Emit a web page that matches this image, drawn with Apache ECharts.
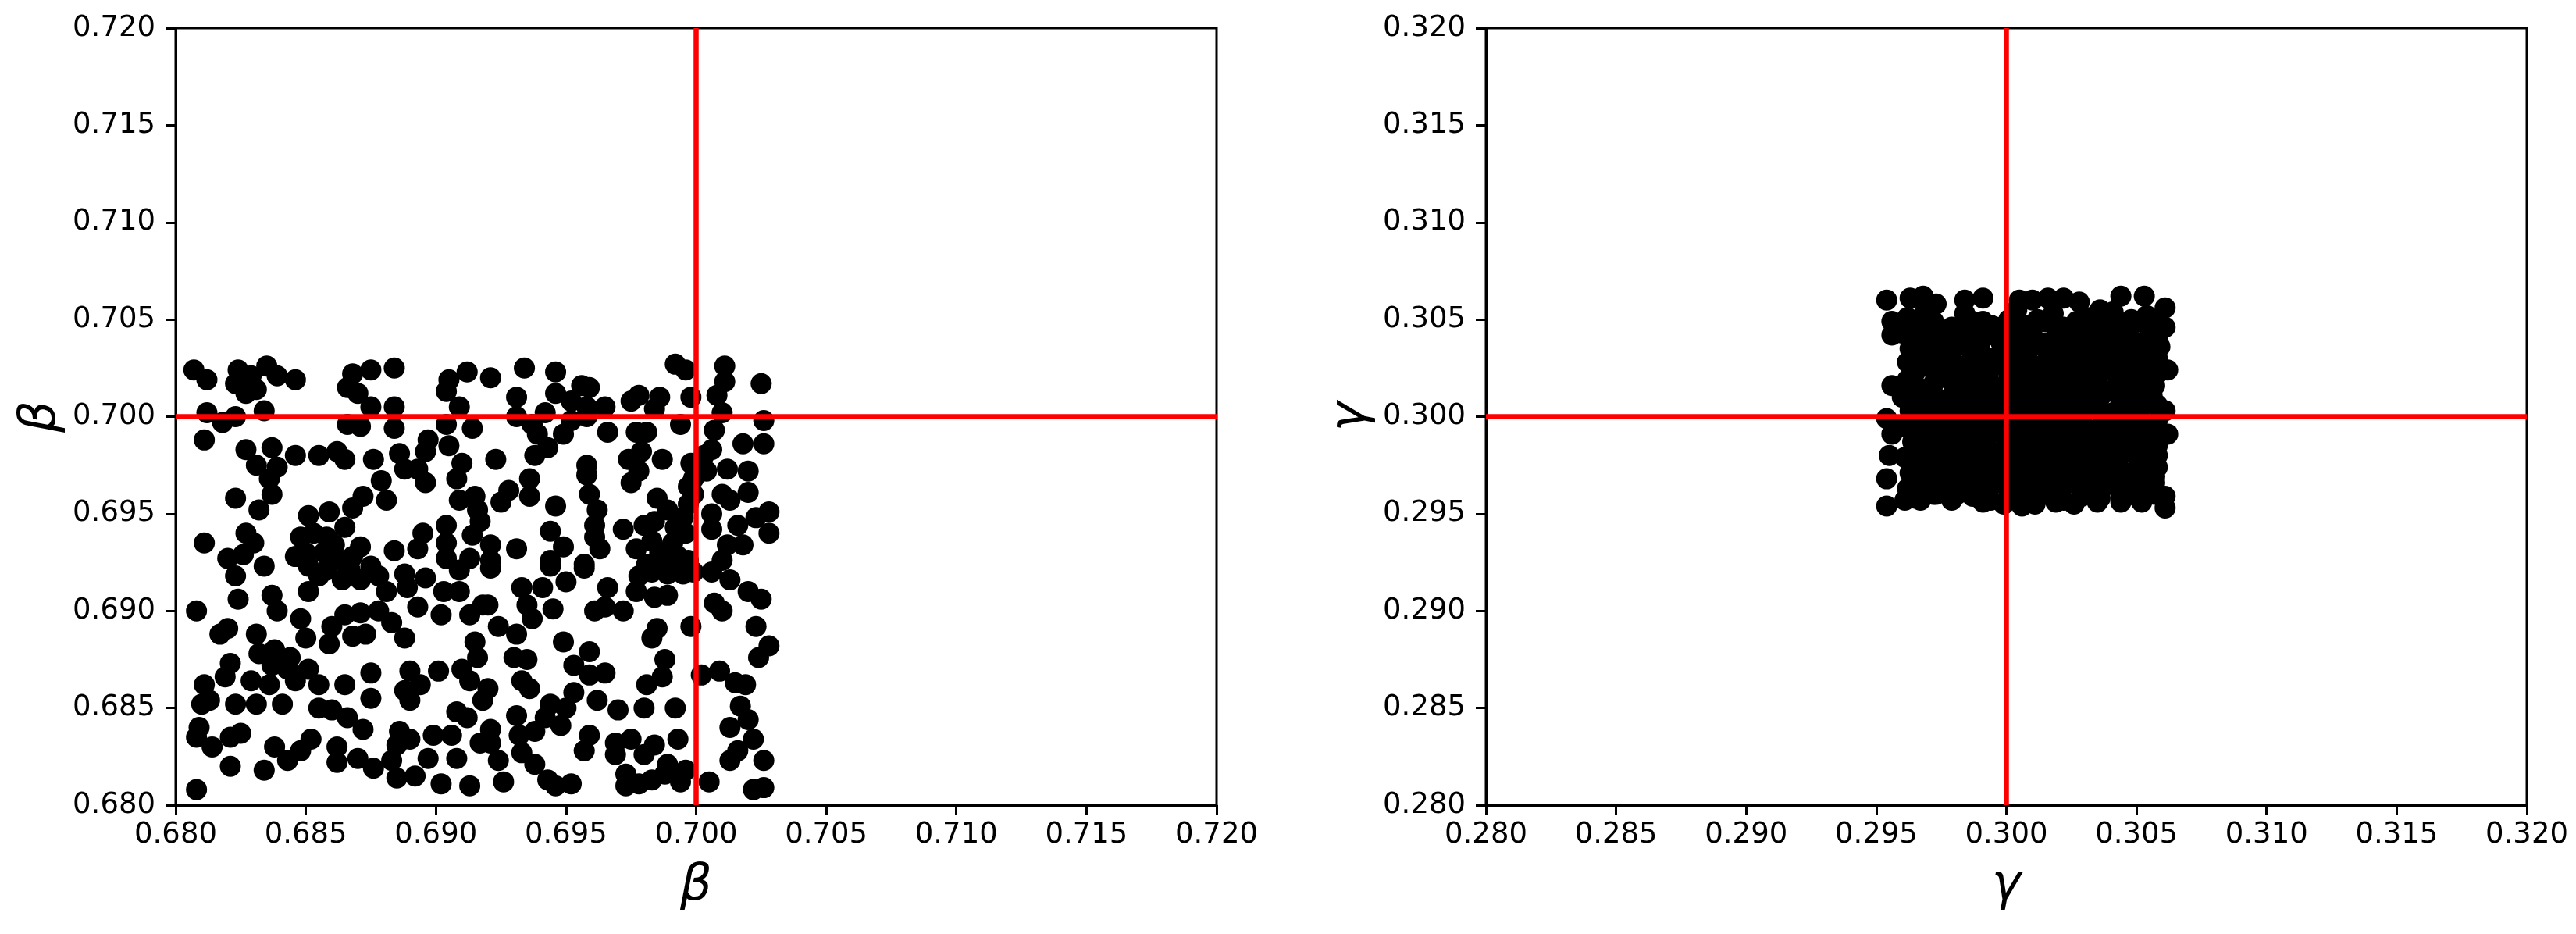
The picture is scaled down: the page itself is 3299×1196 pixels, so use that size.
<!DOCTYPE html>
<html>
<head>
<meta charset="utf-8">
<title>beta / gamma samples</title>
<script src="https://cdn.jsdelivr.net/npm/echarts@6/dist/echarts.min.js"></script>
<style>
  html, body { margin: 0; padding: 0; background: #fff; }
  #chart { width: 3299px; height: 1196px; }
</style>
</head>
<body>
<div id="chart"></div>
<script>
// true parameter values (red cross lines)
const trueBeta = 0.700
const trueGamma = 0.300

// axis ranges / ticks
const betaRange = [0.680, 0.720]
const gammaRange = [0.280, 0.320]
const tickStep = 0.005

const betaPoints = [
  [0.6807,0.7024],[0.6812,0.7019],[0.6824,0.7024],[0.6829,0.7021],[0.6835,0.7026],[0.6839,0.7021],[0.6846,0.7019],[0.6823,0.7017],[0.6827,0.7012],[0.6831,0.7014],
  [0.6812,0.7002],[0.6818,0.6997],[0.6823,0.7000],[0.6834,0.7003],[0.6868,0.7022],[0.6875,0.7024],[0.6884,0.7025],[0.6866,0.7015],[0.6870,0.7012],[0.6875,0.7005],
  [0.6884,0.7005],[0.6866,0.6996],[0.6871,0.6995],[0.6884,0.6994],[0.6905,0.7019],[0.6912,0.7023],[0.6904,0.7013],[0.6909,0.7005],[0.6904,0.6996],[0.6914,0.6994],
  [0.6811,0.6988],[0.6827,0.6983],[0.6837,0.6984],[0.6846,0.6980],[0.6855,0.6980],[0.6862,0.6982],[0.6865,0.6978],[0.6831,0.6975],[0.6839,0.6974],[0.6836,0.6968],
  [0.6837,0.6960],[0.6832,0.6952],[0.6823,0.6958],[0.6876,0.6978],[0.6886,0.6981],[0.6888,0.6973],[0.6893,0.6973],[0.6896,0.6966],[0.6897,0.6988],[0.6896,0.6982],
  [0.6905,0.6985],[0.6910,0.6976],[0.6908,0.6968],[0.6879,0.6967],[0.6872,0.6959],[0.6881,0.6957],[0.6868,0.6953],[0.6909,0.6957],[0.6915,0.6959],[0.6916,0.6952],
  [0.6917,0.6946],[0.6851,0.6949],[0.6859,0.6951],[0.6865,0.6943],[0.6848,0.6938],[0.6853,0.6940],[0.6858,0.6938],[0.6861,0.6934],[0.6871,0.6933],[0.6846,0.6928],
  [0.6851,0.6923],[0.6857,0.6930],[0.6863,0.6926],[0.6875,0.6923],[0.6884,0.6931],[0.6895,0.6940],[0.6893,0.6932],[0.6904,0.6944],[0.6904,0.6935],[0.6914,0.6939],
  [0.6904,0.6927],[0.6913,0.6927],[0.6811,0.6935],[0.6827,0.6940],[0.6830,0.6935],[0.6820,0.6927],[0.6826,0.6929],[0.6834,0.6923],
  [0.6850,0.6930],[0.6868,0.6928],[0.6867,0.6921],[0.6858,0.6921],
  [0.6921,0.7020],[0.6934,0.7025],[0.6946,0.7023],[0.6931,0.7010],[0.6946,0.7012],[0.6956,0.7016],[0.6959,0.7015],[0.6952,0.7008],[0.6958,0.7005],[0.6965,0.7005],
  [0.6931,0.7000],[0.6942,0.7002],[0.6937,0.6996],[0.6939,0.6991],[0.6949,0.6991],[0.6952,0.6998],[0.6958,0.7000],[0.6966,0.6992],[0.6975,0.7008],[0.6978,0.7011],
  [0.6986,0.7010],[0.6984,0.7004],[0.6977,0.6992],[0.6981,0.6992],[0.6994,0.6996],[0.6992,0.7027],[0.6996,0.7024],[0.6998,0.7010],[0.7011,0.7026],[0.7011,0.7018],
  [0.7008,0.7011],[0.7010,0.7002],[0.7007,0.6993],[0.7006,0.6983],[0.7025,0.7017],[0.7026,0.6998],[0.7018,0.6986],[0.7026,0.6986],[0.6923,0.6978],[0.6938,0.6980],
  [0.6943,0.6984],[0.6958,0.6975],[0.6958,0.6970],[0.6974,0.6978],[0.6979,0.6982],[0.6987,0.6978],[0.6978,0.6972],[0.6975,0.6966],[0.6998,0.6976],[0.6997,0.6964],
  [0.7004,0.6972],[0.7012,0.6973],[0.7020,0.6972],[0.7010,0.6960],[0.7013,0.6957],[0.7020,0.6961],[0.6936,0.6968],[0.6928,0.6962],[0.6925,0.6956],[0.6936,0.6959],
  [0.6946,0.6954],[0.6959,0.6960],[0.6962,0.6952],[0.6961,0.6944],[0.6961,0.6938],[0.6963,0.6932],[0.6972,0.6942],[0.6985,0.6958],[0.6984,0.6946],[0.6992,0.6943],
  [0.6997,0.6955],[0.6983,0.6936],[0.6991,0.6935],[0.6977,0.6932],[0.7006,0.6950],[0.7006,0.6942],[0.7016,0.6944],[0.7028,0.6951],[0.7023,0.6948],[0.7028,0.6940],
  [0.7012,0.6934],[0.7018,0.6934],[0.6944,0.6941],[0.6949,0.6933],[0.6944,0.6926],[0.6921,0.6934],[0.6921,0.6926],[0.6931,0.6932],[0.6957,0.6924],[0.7010,0.6926],
  [0.6989,0.6952],[0.6980,0.6944],[0.6989,0.6926],[0.6997,0.6926],[0.6981,0.6924],[0.7003,0.6980],
  [0.6986,0.6930],[0.6993,0.6928],[0.6995,0.6948],[0.6996,0.6940],[0.6999,0.6960],[0.6999,0.6968],
  [0.6823,0.6918],[0.6888,0.6919],[0.6896,0.6917],[0.6909,0.6921],[0.6855,0.6918],[0.6864,0.6916],[0.6871,0.6916],[0.6878,0.6918],[0.6851,0.6910],[0.6881,0.6910],
  [0.6889,0.6912],[0.6903,0.6910],[0.6909,0.6910],[0.6918,0.6903],[0.6902,0.6898],[0.6913,0.6898],[0.6893,0.6902],[0.6808,0.6900],[0.6824,0.6906],[0.6837,0.6908],
  [0.6839,0.6900],[0.6848,0.6896],[0.6850,0.6886],[0.6860,0.6892],[0.6865,0.6898],[0.6871,0.6899],[0.6878,0.6900],[0.6883,0.6894],[0.6859,0.6883],[0.6868,0.6887],
  [0.6873,0.6888],[0.6888,0.6886],[0.6817,0.6888],[0.6820,0.6891],[0.6831,0.6888],[0.6832,0.6878],[0.6838,0.6880],[0.6844,0.6876],[0.6837,0.6872],[0.6843,0.6870],
  [0.6846,0.6864],[0.6851,0.6870],[0.6855,0.6862],[0.6821,0.6873],[0.6819,0.6866],[0.6829,0.6864],[0.6836,0.6862],[0.6811,0.6862],[0.6810,0.6852],[0.6813,0.6854],
  [0.6823,0.6852],[0.6831,0.6852],[0.6841,0.6852],[0.6855,0.6850],[0.6860,0.6849],[0.6866,0.6845],[0.6872,0.6839],[0.6865,0.6862],[0.6875,0.6868],[0.6875,0.6855],
  [0.6890,0.6869],[0.6894,0.6862],[0.6888,0.6859],[0.6890,0.6854],[0.6901,0.6869],[0.6910,0.6870],[0.6915,0.6884],[0.6916,0.6876],[0.6913,0.6864],[0.6918,0.6854],
  [0.6908,0.6848],[0.6912,0.6845],[0.6809,0.6840],[0.6808,0.6835],[0.6814,0.6830],[0.6821,0.6835],[0.6825,0.6837],[0.6821,0.6820],[0.6808,0.6808],[0.6838,0.6830],
  [0.6834,0.6818],[0.6843,0.6823],[0.6848,0.6828],[0.6852,0.6834],[0.6862,0.6830],[0.6862,0.6822],[0.6870,0.6824],[0.6876,0.6819],[0.6886,0.6838],[0.6890,0.6834],
  [0.6885,0.6831],[0.6883,0.6823],[0.6885,0.6814],[0.6892,0.6815],[0.6899,0.6836],[0.6906,0.6836],[0.6897,0.6824],[0.6908,0.6824],[0.6902,0.6811],[0.6913,0.6810],
  [0.6917,0.6832],
  [0.6921,0.6922],[0.6944,0.6923],[0.6957,0.6922],[0.6978,0.6918],[0.6983,0.6920],[0.6989,0.6919],[0.6977,0.6910],[0.6984,0.6907],[0.6989,0.6908],[0.6995,0.6919],
  [0.6999,0.6920],[0.7006,0.6920],[0.7013,0.6916],[0.6933,0.6912],[0.6941,0.6912],[0.6950,0.6915],[0.6935,0.6903],[0.6945,0.6901],[0.6937,0.6896],[0.6920,0.6903],
  [0.6966,0.6912],[0.6961,0.6900],[0.6965,0.6902],[0.6972,0.6900],[0.7020,0.6910],[0.7025,0.6906],[0.7007,0.6904],[0.7010,0.6900],[0.6985,0.6891],[0.6983,0.6886],
  [0.6998,0.6892],[0.6924,0.6892],[0.6931,0.6888],[0.7023,0.6892],[0.7028,0.6882],[0.7024,0.6876],[0.6949,0.6884],[0.6959,0.6879],[0.6953,0.6872],[0.6959,0.6867],
  [0.6965,0.6868],[0.6930,0.6876],[0.6935,0.6875],[0.6933,0.6864],[0.6936,0.6860],[0.6920,0.6860],[0.6988,0.6875],[0.6987,0.6866],[0.6981,0.6862],[0.7002,0.6867],
  [0.7009,0.6869],[0.7015,0.6863],[0.7019,0.6862],[0.6953,0.6858],[0.6944,0.6852],[0.6950,0.6850],[0.6942,0.6845],[0.6931,0.6846],[0.6948,0.6841],[0.6932,0.6836],
  [0.6938,0.6838],[0.6962,0.6854],[0.6970,0.6849],[0.6980,0.6850],[0.6992,0.6850],[0.7017,0.6851],[0.7020,0.6844],[0.7013,0.6840],[0.7022,0.6834],[0.7016,0.6828],
  [0.7013,0.6823],[0.7026,0.6823],[0.7005,0.6812],[0.7022,0.6808],[0.7026,0.6809],[0.6959,0.6836],[0.6957,0.6828],[0.6969,0.6832],[0.6969,0.6826],[0.6975,0.6834],
  [0.6984,0.6831],[0.6980,0.6826],[0.6989,0.6821],[0.6988,0.6816],[0.6973,0.6816],[0.6978,0.6811],[0.6973,0.6810],[0.6993,0.6834],[0.6933,0.6827],[0.6938,0.6821],
  [0.6943,0.6813],[0.6952,0.6811],[0.6946,0.6810],[0.6926,0.6812],[0.6924,0.6823],[0.6921,0.6832],[0.6921,0.6839],
  [0.6983,0.6813],[0.6994,0.6812],[0.6996,0.6818]
]

const gammaPoints = [
  [0.2954,0.3060],[0.2963,0.3061],[0.2968,0.3062],[0.2973,0.3058],[0.2984,0.3060],[0.2991,0.3061],[0.3005,0.3060],[0.2956,0.3049],[0.2956,0.3042],[0.2962,0.3028],
  [0.2956,0.3016],[0.2954,0.2999],[0.2956,0.2991],[0.2955,0.2980],[0.2954,0.2968],[0.2954,0.2954],[0.2961,0.2957],[0.2967,0.2957],[0.2973,0.2960],[0.2981,0.2960],
  [0.2991,0.2956],[0.2999,0.2955],[0.3006,0.2954],
  [0.3010,0.3060],[0.3016,0.3061],[0.3022,0.3061],[0.3028,0.3059],[0.3036,0.3055],[0.3044,0.3062],[0.3053,0.3062],[0.3061,0.3056],[0.3061,0.3046],[0.3059,0.3036],
  [0.3062,0.3024],[0.3056,0.3011],[0.3061,0.3003],[0.3062,0.2991],[0.3058,0.2980],[0.3057,0.2969],[0.3061,0.2959],[0.3061,0.2953],[0.3052,0.2956],[0.3044,0.2956],
  [0.3035,0.2956],[0.3026,0.2955],[0.3019,0.2956],[0.3011,0.2955],
  [0.2962,0.3051],[0.2969,0.3055],[0.2984,0.3053],[0.2991,0.3049],[0.3004,0.3055],[0.3012,0.3050],[0.3018,0.3053],[0.3027,0.3049],[0.3032,0.3051],[0.3041,0.3054],
  [0.3048,0.3050],[0.3054,0.3052],
  [0.2960,0.3043],[0.2968,0.3046],[0.2976,0.3041],[0.2982,0.3045],[0.2989,0.3042],[0.2996,0.3046],[0.3005,0.3043],[0.3010,0.3045],[0.3019,0.3041],[0.3025,0.3044],
  [0.3034,0.3046],[0.3040,0.3042],[0.3047,0.3045],[0.3055,0.3043],
  [0.2963,0.3035],[0.2970,0.3038],[0.2984,0.3037],[0.2990,0.3034],[0.2998,0.3038],[0.3003,0.3035],[0.3012,0.3037],[0.3018,0.3033],[0.3027,0.3036],[0.3032,0.3038],
  [0.3041,0.3034],[0.3046,0.3037],[0.3053,0.3035],
  [0.2968,0.3027],[0.2976,0.3030],[0.2982,0.3026],[0.2991,0.3029],[0.2997,0.3027],[0.3004,0.3030],[0.3011,0.3026],[0.3020,0.3029],[0.3025,0.3027],[0.3033,0.3030],
  [0.3039,0.3026],[0.3048,0.3029],[0.3055,0.3027],
  [0.2962,0.3019],[0.2973,0.3022],[0.2979,0.3018],[0.2984,0.3021],[0.2994,0.3017],[0.3001,0.3021],[0.3008,0.3019],[0.3014,0.3022],[0.3021,0.3018],[0.3028,0.3021],
  [0.3035,0.3019],[0.3042,0.3022],[0.3049,0.3018],[0.3054,0.3020],
  [0.2960,0.3010],[0.2967,0.3013],[0.2974,0.3009],[0.2983,0.3012],[0.2989,0.3014],[0.2996,0.3010],[0.3004,0.3013],[0.3010,0.3009],[0.3018,0.3012],[0.3024,0.3014],
  [0.3031,0.3010],[0.3039,0.3013],[0.3046,0.3009],[0.3052,0.3012],
  [0.2963,0.3003],[0.2969,0.3006],[0.2977,0.3002],[0.2984,0.3005],[0.2991,0.3002],[0.2998,0.3006],[0.3005,0.3003],[0.3013,0.3005],[0.3019,0.3001],[0.3026,0.3004],
  [0.3034,0.3006],[0.3041,0.3002],[0.3047,0.3005],[0.3055,0.3007],
  [0.2961,0.2995],[0.2970,0.2998],[0.2976,0.2994],[0.2983,0.2997],[0.2990,0.2993],[0.2997,0.2997],[0.3004,0.2995],[0.3011,0.2998],[0.3018,0.2994],[0.3025,0.2997],
  [0.3033,0.2993],[0.3039,0.2996],[0.3048,0.2998],[0.3054,0.2994],
  [0.2964,0.2987],[0.2971,0.2989],[0.2978,0.2985],[0.2985,0.2990],[0.2992,0.2986],[0.3000,0.2989],[0.3006,0.2987],[0.3012,0.2990],[0.3020,0.2986],[0.3027,0.2989],
  [0.3033,0.2985],[0.3042,0.2988],[0.3048,0.2990],[0.3055,0.2986],
  [0.2961,0.2979],[0.2967,0.2982],[0.2975,0.2978],[0.2982,0.2981],[0.2989,0.2977],[0.2996,0.2981],[0.3003,0.2978],[0.3010,0.2982],[0.3017,0.2979],[0.3024,0.2981],
  [0.3031,0.2977],[0.3038,0.2980],[0.3046,0.2982],[0.3052,0.2978],
  [0.2963,0.2971],[0.2970,0.2974],[0.2977,0.2970],[0.2984,0.2973],[0.2990,0.2969],[0.2998,0.2972],[0.3005,0.2974],[0.3012,0.2970],[0.3019,0.2973],[0.3026,0.2969],
  [0.3032,0.2972],[0.3040,0.2974],[0.3047,0.2970],[0.3053,0.2973],
  [0.2962,0.2963],[0.2968,0.2966],[0.2976,0.2962],[0.2983,0.2965],[0.2991,0.2962],[0.2997,0.2966],[0.3004,0.2963],[0.3011,0.2965],[0.3018,0.2962],[0.3025,0.2966],
  [0.3032,0.2963],[0.3039,0.2965],[0.3045,0.2962],[0.3052,0.2965]
]

// further gamma samples hidden inside the dense block (staggered between the ones above)
const gammaInnerPoints = [
  [0.2965,0.3047],[0.2972,0.3049],[0.2979,0.3046],[0.2987,0.3049],[0.2994,0.3047],[0.3001,0.3050],[0.3008,0.3047],[0.3015,0.3049],[0.3022,0.3046],[0.3029,0.3048],
  [0.3037,0.3050],[0.3044,0.3047],[0.3051,0.3049],[0.3058,0.3047],
  [0.2965,0.3039],[0.2972,0.3041],[0.2980,0.3038],[0.2986,0.3040],[0.2993,0.3042],[0.3001,0.3039],[0.3008,0.3041],[0.3015,0.3038],[0.3022,0.3040],[0.3029,0.3042],
  [0.3036,0.3039],[0.3044,0.3041],[0.3051,0.3038],[0.3058,0.3040],
  [0.2966,0.3031],[0.2973,0.3033],[0.2979,0.3030],[0.2987,0.3032],[0.2994,0.3030],[0.3001,0.3033],[0.3008,0.3031],[0.3016,0.3033],[0.3022,0.3030],[0.3030,0.3032],
  [0.3036,0.3034],[0.3043,0.3031],[0.3051,0.3033],[0.3058,0.3030],
  [0.2965,0.3023],[0.2971,0.3025],[0.2979,0.3022],[0.2987,0.3024],[0.2993,0.3022],[0.3000,0.3025],[0.3008,0.3023],[0.3015,0.3025],[0.3022,0.3022],[0.3030,0.3024],
  [0.3037,0.3026],[0.3044,0.3023],[0.3051,0.3025],[0.3058,0.3022],
  [0.2966,0.3015],[0.2972,0.3017],[0.2980,0.3014],[0.2987,0.3016],[0.2994,0.3014],[0.3001,0.3017],[0.3008,0.3015],[0.3015,0.3017],[0.3022,0.3014],[0.3029,0.3016],
  [0.3036,0.3014],[0.3043,0.3017],[0.3051,0.3015],[0.3057,0.3016],
  [0.2964,0.3007],[0.2972,0.3009],[0.2979,0.3006],[0.2986,0.3008],[0.2993,0.3006],[0.3001,0.3009],[0.3007,0.3007],[0.3015,0.3009],[0.3022,0.3006],[0.3029,0.3008],
  [0.3036,0.3010],[0.3044,0.3007],[0.3050,0.3009],[0.3058,0.3006],
  [0.2966,0.2999],[0.2973,0.3001],[0.2980,0.2998],[0.2987,0.3000],[0.2994,0.2998],[0.3001,0.3001],[0.3008,0.2999],[0.3015,0.3001],[0.3022,0.2998],[0.3029,0.3000],
  [0.3036,0.3002],[0.3043,0.2999],[0.3051,0.3001],[0.3058,0.2998],
  [0.2965,0.2991],[0.2972,0.2993],[0.2979,0.2990],[0.2987,0.2992],[0.2993,0.2990],[0.3001,0.2993],[0.3008,0.2991],[0.3015,0.2993],[0.3023,0.2990],[0.3030,0.2992],
  [0.3036,0.2990],[0.3044,0.2993],[0.3051,0.2991],[0.3058,0.2994],
  [0.2966,0.2983],[0.2972,0.2985],[0.2980,0.2982],[0.2987,0.2984],[0.2994,0.2982],[0.3001,0.2985],[0.3008,0.2983],[0.3015,0.2985],[0.3022,0.2982],[0.3029,0.2984],
  [0.3036,0.2982],[0.3043,0.2985],[0.3050,0.2983],[0.3058,0.2985],
  [0.2965,0.2975],[0.2972,0.2977],[0.2979,0.2974],[0.2986,0.2976],[0.2993,0.2974],[0.3001,0.2977],[0.3008,0.2975],[0.3015,0.2977],[0.3022,0.2974],[0.3029,0.2976],
  [0.3036,0.2978],[0.3043,0.2975],[0.3051,0.2977],[0.3058,0.2974],
  [0.2966,0.2967],[0.2973,0.2969],[0.2980,0.2966],[0.2987,0.2968],[0.2994,0.2966],[0.3001,0.2969],[0.3008,0.2967],[0.3015,0.2969],[0.3022,0.2966],[0.3029,0.2968],
  [0.3036,0.2970],[0.3043,0.2967],[0.3050,0.2969],[0.3057,0.2966],
  [0.2965,0.2958],[0.2972,0.2960],[0.2979,0.2957],[0.2987,0.2959],[0.2994,0.2957],[0.3001,0.2960],[0.3008,0.2958],[0.3015,0.2960],[0.3022,0.2957],[0.3029,0.2959],
  [0.3036,0.2958],[0.3044,0.2960],[0.3051,0.2958],[0.3057,0.2960]
]

const chart = echarts.init(document.getElementById('chart'), null, { renderer: 'canvas' })

const font = 'DejaVu Sans'

function makeAxis(range, name, gridIndex, isY) {
  return {
    type: 'value',
    gridIndex: gridIndex,
    min: range[0],
    max: range[1],
    interval: tickStep,
    name: name,
    nameLocation: 'middle',
    nameGap: isY ? 140 : 72,
    nameTextStyle: {
      fontFamily: font,
      fontStyle: 'italic',
      fontSize: 64,
      color: '#000',
    },
    axisLine: { show: true, onZero: false, lineStyle: { color: '#000', width: 3 } },
    axisTick: { show: true, inside: false, length: 13, lineStyle: { color: '#000', width: 3 } },
    axisLabel: {
      show: true,
      color: '#000',
      fontFamily: font,
      fontSize: 37,
      margin: isY ? 26 : 20,
      formatter: (v) => v.toFixed(3),
    },
    splitLine: { show: false },
  }
}

function crossLines(value, idx) {
  return {
    type: 'line',
    xAxisIndex: idx,
    yAxisIndex: idx,
    data: [],
    z: 10,
    silent: true,
    markLine: {
      silent: true,
      z: 10,
      symbol: 'none',
      animation: false,
      label: { show: false },
      lineStyle: { color: '#ff0000', width: 6.5, type: 'solid' },
      data: [{ xAxis: value }, { yAxis: value }],
    },
  }
}

const options = {
  backgroundColor: '#fff',
  animation: false,
  grid: [
    { left: 225, top: 36, width: 1333, height: 995, show: true, borderColor: '#000', borderWidth: 3, containLabel: false },
    { left: 1903, top: 36, width: 1333, height: 995, show: true, borderColor: '#000', borderWidth: 3, containLabel: false },
  ],
  xAxis: [makeAxis(betaRange, 'β', 0, false), makeAxis(gammaRange, 'γ', 1, false)],
  yAxis: [makeAxis(betaRange, 'β', 0, true), makeAxis(gammaRange, 'γ', 1, true)],
  series: [
    {
      type: 'scatter',
      xAxisIndex: 0,
      yAxisIndex: 0,
      symbol: 'circle',
      symbolSize: 27,
      itemStyle: { color: '#000', opacity: 1 },
      data: betaPoints,
      z: 2,
    },
    {
      type: 'scatter',
      xAxisIndex: 1,
      yAxisIndex: 1,
      symbol: 'circle',
      symbolSize: 27,
      itemStyle: { color: '#000', opacity: 1 },
      data: gammaPoints.concat(gammaInnerPoints),
      z: 2,
    },
    crossLines(trueBeta, 0),
    crossLines(trueGamma, 1),
  ],
}

chart.setOption(options)
</script>
</body>
</html>
